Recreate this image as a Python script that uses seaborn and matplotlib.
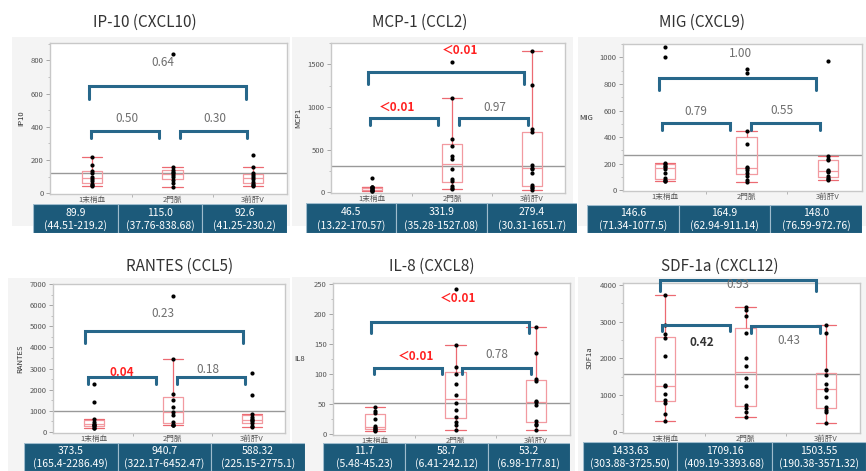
import numpy as np
import pandas as pd
import matplotlib
matplotlib.use("Agg")
import matplotlib.pyplot as plt
import seaborn as sns
from matplotlib.patches import Rectangle
from matplotlib.ticker import MultipleLocator, FixedLocator

sns.set_style("white")
plt.rcParams['font.family'] = ['Noto Sans CJK JP', 'DejaVu Sans']

W, H = 866, 471

categories = ["1末梢血", "2門脈", "3前肝V"]

# ---- data ----
ip10_g1 = [44.51, 50, 58, 75, 85, 94.8, 120, 135, 170, 219.2]
ip10_g2 = [37.76, 60, 78, 100, 110, 120, 130, 140, 156, 838.68]
ip10_g3 = [41.25, 48, 55, 70, 88, 97.2, 110, 120, 156, 230.2]

mcp1_g1 = [13.22, 18, 22, 30, 40, 53, 55, 58, 60, 170.57]
mcp1_g2 = [35.28, 50, 70, 130, 150, 270, 393.8, 420, 540, 620, 1100, 1527.08]
mcp1_g3 = [30.31, 45, 60, 80, 230, 270, 288.8, 320, 700, 740, 1260, 1651.7]

mig_g1 = [71.34, 73, 75, 90, 130, 163.2, 175, 185, 195, 205, 1000, 1077.5]
mig_g2 = [62.94, 80, 110, 130, 150, 164.9, 175, 350, 445, 880, 911.14]
mig_g3 = [76.59, 85, 95, 110, 135, 148, 155, 225, 235, 256, 972.76]

rantes_g1 = [165.4, 200, 260, 320, 350, 397, 480, 600, 1400, 2286.49]
rantes_g2 = [322.17, 340, 350, 450, 800, 940.7, 1200, 1500, 1780, 3445, 6452.47]
rantes_g3 = [225.15, 280, 400, 500, 560, 616.64, 700, 850, 1750, 2775.1]

il8_g1 = [5.48, 6, 7, 9, 10.5, 12.9, 25, 35, 38, 45.23]
il8_g2 = [6.41, 15, 20, 28, 40, 52, 65.4, 83, 100, 112, 148, 242.12]
il8_g3 = [6.98, 15, 17, 21, 48, 53.2, 55, 88, 92, 135, 177.81]

sdf_g1 = [303.88, 500, 780, 870, 1050, 1250, 1270, 2080, 2550, 2650, 2900, 3725.5]
sdf_g2 = [409.19, 550, 650, 730, 1250, 1480, 1800, 2000, 2700, 3150, 3300, 3393.68]
sdf_g3 = [261, 550, 600, 680, 950, 1150, 1180, 1300, 1560, 1700, 2700, 2907]

titles = ["IP-10 (CXCL10)", "MCP-1 (CCL2)", "MIG (CXCL9)",
          "RANTES (CCL5)", "IL-8 (CXCL8)", "SDF-1a (CXCL12)"]
ylabels = ["IP10", "MCP1", "MIG", "RANTES", "IL8", "SDF1a"]
ref_lines = [120, 312, 262, 972, 51, 1585]

table_medians = [["89.9", "115.0", "92.6"],
                 ["46.5", "331.9", "279.4"],
                 ["146.6", "164.9", "148.0"],
                 ["373.5", "940.7", "588.32"],
                 ["11.7", "58.7", "53.2"],
                 ["1433.63", "1709.16", "1503.55"]]
table_ranges = [["44.51-219.2", "37.76-838.68", "41.25-230.2"],
                ["13.22-170.57", "35.28-1527.08", "30.31-1651.7"],
                ["71.34-1077.5", "62.94-911.14", "76.59-972.76"],
                ["165.4-2286.49", "322.17-6452.47", "225.15-2775.1"],
                ["5.48-45.23", "6.41-242.12", "6.98-177.81"],
                ["303.88-3725.50", "409.19-3393.68", "190.38-3571.32"]]

# p-values: (label, x, y, style)  style: g=gray, r=red bold, b=dark bold
pvals = [
    [("0.50", 0.43, 450, "g"), ("0.30", 1.53, 450, "g"), ("0.64", 0.88, 786, "g")],
    [("＜0.01", 0.31, 996, "r"), ("0.97", 1.54, 996, "g"), ("＜0.01", 1.10, 1668, "r")],
    [("0.79", 0.37, 590, "g"), ("0.55", 1.43, 603, "g"), ("1.00", 0.93, 1025, "g")],
    [("0.04", 0.35, 2816, "r"), ("0.18", 1.44, 2942, "g"), ("0.23", 0.875, 5616, "g")],
    [("＜0.01", 0.515, 129, "r"), ("0.78", 1.515, 133, "g"), ("＜0.01", 1.03, 226, "r")],
    [("0.42", 0.46, 2439, "b"), ("0.43", 1.535, 2493, "g"), ("0.93", 0.91, 3996, "g")],
]
# brackets: (x1, x2, y_top, y_end)
brackets = [
    [(-0.015, 0.835, 374, 334), (1.09, 1.92, 374, 334), (-0.04, 1.91, 646, 570)],
    [(-0.033, 0.83, 867, 789), (1.09, 1.96, 867, 789), (-0.05, 1.91, 1414, 1269)],
    [(-0.036, 0.80, 507, 457), (1.06, 1.90, 503, 453), (-0.08, 1.86, 842, 754)],
    [(-0.074, 0.79, 2596, 2281), (1.05, 1.91, 2596, 2281), (-0.115, 1.887, 4783, 4200)],
    [(-0.012, 0.837, 110.7, 99.6), (1.085, 1.93, 110.7, 99.6), (-0.05, 1.91, 187, 167.7)],
    [(-0.041, 0.808, 2916, 2736), (1.072, 1.92, 2871, 2691), (-0.062, 1.877, 4113, 3816)],
]

groups = [
    [ip10_g1, ip10_g2, ip10_g3],
    [mcp1_g1, mcp1_g2, mcp1_g3],
    [mig_g1, mig_g2, mig_g3],
    [rantes_g1, rantes_g2, rantes_g3],
    [il8_g1, il8_g2, il8_g3],
    [sdf_g1, sdf_g2, sdf_g3],
]

ylims = [(-5, 905), (-10, 1750), (-5, 1100), (-50, 7000), (-2, 252), (-20, 4045)]
ymaj = [200, 500, 200, 1000, 50, 1000]
ymaxtick = [800, 1500, 1000, 7000, 250, 4000]

# layout in pixels
axes_px = [(50, 287, 43, 194), (331, 565, 43, 193), (623, 862, 44, 191),
           (53, 285, 284, 433), (333, 570, 283, 435), (623, 860, 283, 433)]
bg_px = [(12, 290, 37, 226), (292, 573, 37, 226), (578, 866, 37, 226),
         (8, 290, 278, 471), (292, 575, 277, 471), (578, 866, 277, 471)]
table_px = [(33, 287, 204, 233), (306, 577, 203, 233), (587, 862, 205, 233),
            (24, 305, 443, 471), (323, 570, 443, 471), (583, 866, 442, 471)]
title_pos = [(145, 22), (420, 22), (702, 22), (180, 266), (432, 266), (720, 266)]

BOX = '#ec6a72'
BOX_LIGHT = '#f29aa0'
BRK = '#27678a'
TBL = '#1c5a7a'

fig = plt.figure(figsize=(W / 100, H / 100), dpi=100)
fig.patch.set_facecolor('white')


def frac_rect(l, r, t, b):
    return [l / W, 1 - b / H, (r - l) / W, (b - t) / H]


# background panels as an underlying full-figure axes
bgax = fig.add_axes([0, 0, 1, 1], zorder=-10)
bgax.set_xlim(0, W)
bgax.set_ylim(H, 0)
bgax.axis('off')
for i in range(6):
    l, r, t, b = bg_px[i]
    bgax.add_patch(Rectangle((l, t), r - l, b - t, fc='#f4f4f4', ec='none'))

for i in range(6):
    ax = fig.add_axes(frac_rect(*axes_px[i]))
    ax.set_facecolor('white')
    vals, labs = [], []
    for c, g in zip(categories, groups[i]):
        vals += g
        labs += [c] * len(g)
    df = pd.DataFrame({"group": labs, "value": vals})
    ax.axhline(ref_lines[i], color='#999999', lw=1.0, zorder=0.5)
    sns.boxplot(data=df, x="group", y="value", order=categories, width=0.25,
                fill=False, color=BOX, linewidth=0.9, showfliers=False,
                whis=1.5, ax=ax, capwidths=0.25,
                boxprops={"color": BOX_LIGHT}, medianprops={"color": BOX_LIGHT})
    sns.stripplot(data=df, x="group", y="value", order=categories, color='black',
                  size=3, jitter=False, ax=ax, zorder=3)
    ax.set_xlim(-0.52, 2.42)
    ax.set_ylim(*ylims[i])
    ax.yaxis.set_major_locator(FixedLocator(np.arange(0, ymaxtick[i] + 1, ymaj[i])))
    ax.yaxis.set_minor_locator(MultipleLocator(ymaj[i] / 2))
    ax.xaxis.set_minor_locator(FixedLocator([0.5, 1.5]))
    ax.tick_params(axis='y', which='major', length=3, width=0.6, color='#999',
                   labelsize=5.5, labelcolor='#555', pad=1.5, left=True)
    ax.tick_params(axis='y', which='minor', length=1.8, width=0.5, color='#aaa', left=True)
    ax.tick_params(axis='x', which='major', length=0, labelsize=5.5, labelcolor='#555', pad=1.5)
    ax.tick_params(axis='x', which='minor', length=2.5, width=0.6, color='#aaa', bottom=True)
    for sp in ax.spines.values():
        sp.set_color('#c8c8c8')
        sp.set_linewidth(1.0)
    ax.set_xlabel("")
    if ylabels[i] in ("MIG", "IL8"):
        ax.set_ylabel(ylabels[i], fontsize=5.5, color='#333', rotation=0, labelpad=10, va='center')
    else:
        ax.set_ylabel(ylabels[i], fontsize=5.5, color='#333', labelpad=4)
    for (x1, x2, yt, ye) in brackets[i]:
        ax.plot([x1, x1, x2, x2], [ye, yt, yt, ye], color=BRK, lw=2.2,
                clip_on=False, zorder=4, solid_joinstyle='miter')
    for (txt, x, y, st) in pvals[i]:
        if st == "r":
            ax.text(x, y, txt, color='#ff2020', fontsize=8.5, fontweight='bold',
                    ha='center', va='center', zorder=5)
        elif st == "b":
            ax.text(x, y, txt, color='#333333', fontsize=8.5, fontweight='bold',
                    ha='center', va='center', zorder=5)
        else:
            ax.text(x, y, txt, color='#6e6e6e', fontsize=8.5,
                    ha='center', va='center', zorder=5)

    # title
    tx, ty = title_pos[i]
    fig.text(tx / W, 1 - ty / H, titles[i], fontsize=11, color='#333',
             ha='center', va='center')

    # table
    tax = fig.add_axes(frac_rect(*table_px[i]))
    tax.set_xlim(0, 3)
    tax.set_ylim(0, 1)
    tax.axis('off')
    for k in range(3):
        tax.add_patch(Rectangle((k, 0), 1, 1, fc=TBL, ec='#9fbccd', lw=0.8))
        tax.text(k + 0.5, 0.70, table_medians[i][k], color='white', fontsize=7.5,
                 ha='center', va='center')
        tax.text(k + 0.5, 0.26, "(" + table_ranges[i][k] + ")", color='white',
                 fontsize=7.5, ha='center', va='center')

fig.savefig("out.png", dpi=100)
